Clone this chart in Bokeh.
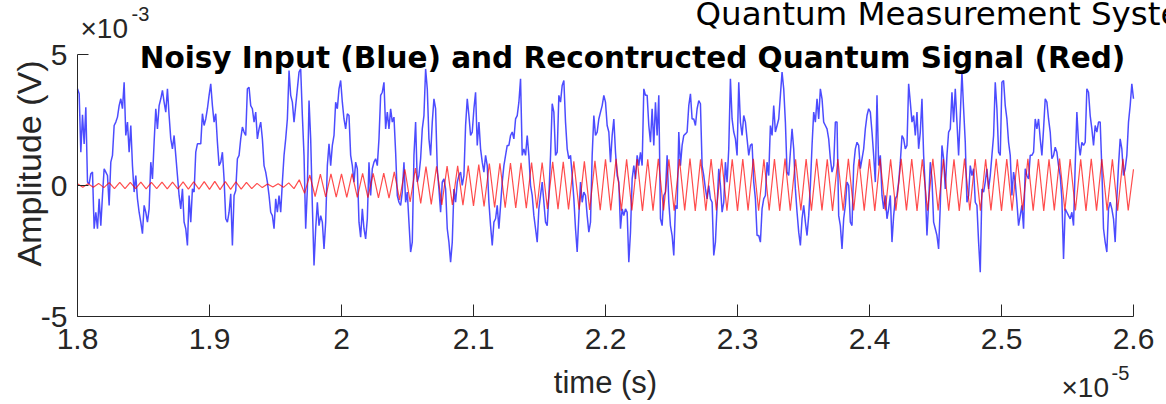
import numpy as np
from bokeh.plotting import figure
from bokeh.models import Range1d, FixedTicker, Label, LinearAxis
from bokeh.embed import file_html
from bokeh.resources import INLINE

# ---------------- data (time in units of 1e-5 s, amplitude in units of 1e-3 V) ----------------
t_start, t_end = 1.8, 2.6
v_min, v_max = -5, 5

blue_mv = [
    3.69, 3.50, 1.27, 2.70, 1.59, 2.99, 0.13, 0.06, 0.45, 0.51,
    -1.65, -1.02, -1.65, -0.51, -1.53, -0.38, 0.64, 0.51, 0.38, -0.76,
    0.89, 1.15, 2.29, 2.42, 2.61, 3.05, 3.31, 2.93, 3.94, 1.91,
    2.42, 1.27, 2.29, 0.76, -0.25, 0.38, -0.51, -1.02, -1.40, -1.84,
    -0.76, -1.02, -1.40, -0.89, 0.89, 0.25, 1.65, 2.93, 2.16, 3.05,
    3.31, 3.63, 3.18, 2.80, 3.69, 2.67, 1.78, 1.40, 1.91, 1.15,
    0.38, -0.38, -0.89, -0.13, -1.40, -1.65, -2.29, -0.38, -1.40, -0.13,
    -0.25, 1.27, 1.59, 1.59, 1.59, 2.74, 2.29, 2.54, 2.93, 3.44,
    3.88, 3.05, 2.42, 2.74, 1.65, 0.76, 0.89, 1.27, 0.25, -1.27,
    -1.40, -1.02, -0.32, -2.29, -0.38, -0.19, 1.02, 1.15, 1.78, 2.23,
    2.04, 1.91, 3.69, 3.75, 3.05, 2.93, 2.42, 2.80, 1.78, 2.16,
    2.42, 1.78, 0.76, 0.51, 0.13, -0.38, -1.02, -1.15, -1.65, -0.51,
    -1.02, -0.38, -1.02, 0.13, 1.15, 1.78, 2.54, 4.39, 3.44, 3.18,
    2.42, 3.05, 3.69, 4.33, 4.45, 2.67, 1.15, -1.65, -0.13, 3.24,
    1.78, -0.76, -3.05, -1.65, -0.64, -1.53, -1.15, -1.40, -2.42, -1.40,
    0.76, 1.59, 0.76, 1.53, 1.91, 3.18, 2.93, 3.69, 4.01, 3.18,
    2.54, 2.16,
    2.74, 2.67, 1.15, 0.76, 0.13, 0.89, 0.64, -1.40, -1.97, -0.89,
    -1.65, -2.04, -1.27, 0.89, -0.38, 0.64, 0.89, 1.02, 0.76, 1.78,
    3.44, 3.56, 3.94, 2.16, 2.80, 2.16, 2.93, 2.42, 2.61, 1.27,
    -0.38, -0.64, -0.76, -0.25, 0.89, -0.64, -0.25, -1.40, -2.54, -2.16,
    1.15, 2.42, 0.13, 0.38, 1.02, 2.16, 2.67, 4.45, 3.69, 1.78,
    1.15, 2.42, 3.31, 2.93, 0.64, -0.13, -1.02, 0.13, 0.25, -0.13,
    -1.65, -2.16, -2.93, -2.16, -0.13, -0.64, 0.13, 0.38, 0.51, 0.00,
    0.38, 2.29, 3.31, 2.67, 1.91, 2.04, 2.93, 3.56, 1.53, 2.42,
    1.40, 0.89, 0.51, 1.15, 0.76, -0.64, -1.53, -2.29, -1.40, -1.27,
    -0.76, -1.65, -0.76, 0.13, 0.76, 1.15, 1.53, 1.53, 1.91, 2.04,
    1.78, 2.54, 2.67, 3.18, 4.07, 1.15, 1.40, 1.15, 1.91, 1.15,
    0.00, -0.38, -1.15, -1.65, -2.16, -0.89, -0.38, 0.13, -0.64, -1.40,
    -1.53, -0.38, 1.15, 3.12, 2.80, 1.15, 1.27, 3.44, 3.18, 3.82,
    4.01, 2.42, 1.40, 1.02, 1.15, 0.38, -0.51, -1.65, -2.54, -1.15,
    0.13, -0.64, -0.25, -0.38, -1.15, -1.78, -1.40, 1.15, 2.67, 1.91,
    2.04, 2.54, 2.80, 3.05, 3.44, 3.18, 2.29, 2.04, 0.89,
    1.91, 2.54, 1.27, 0.38, 0.13, -1.65, -0.89, -1.15, -0.89, -1.02,
    -2.93, -1.78, 0.25, 0.76, 0.25, 1.15, 0.76, 1.27, 0.76, 3.69,
    3.44, 3.44, 2.29, 1.65, 2.93, 1.53, 3.18, 1.91, 3.44, -1.27,
    -1.53, -0.38, -0.25, 1.15, -0.64, -1.53, -1.91, -2.67, -0.76, -0.89,
    2.04, 0.76, 1.53, 1.91, 1.97, 2.04, 3.05, 3.50, 2.54, 2.54,
    2.29, 2.93, 3.24, 3.12, 0.76, 0.38, -0.13, -0.51, 0.00, -0.51,
    -0.64, -2.67, -2.16, -0.76, 0.64, 0.00, -1.02, -0.64, 0.89, 0.13,
    1.40, 4.07, 2.54, 2.04, 1.78, 1.15, 3.94, 2.42, 1.91, 2.67,
    2.42, 1.78, 1.15, 1.53, 1.59, 0.13, -0.51, -1.91, -1.91, -2.16,
    -0.89, -0.51, -0.38, 0.89, 0.38, 2.29, 1.91, 3.05, 2.04, 2.29,
    2.54, 3.44, 4.33, 3.69, 2.42, 0.51, 0.38, 1.27, 2.16, 1.40,
    -0.13, -1.02, -1.78, -2.29, -1.27, -0.76, -1.40, -1.91, -1.15, 0.00,
    1.53, 2.80, 2.42, 3.31, 2.54, 3.69, 3.31, 2.42, 2.29, 2.16,
    1.78, 1.02, 0.51, 0.76, 2.42, 2.42, -1.15, -1.53, -2.42, -1.27,
    -0.76, 0.13, 0.00, -1.40, -1.53, 0.76, 1.40, 1.65, 1.53, 0.64,
    1.02, 1.40, 2.16, 2.67, 2.93, 2.80, 2.04, 1.15, 0.13,
    3.44, 0.76, 1.15, -0.38, -0.89, -0.38, -1.27, -0.89, -0.38, -2.16,
    -1.15, -0.51, -0.38, 0.13, 0.89, 1.91, 1.78, 1.40, 1.53, 3.88,
    3.18, 2.42, 2.67, 1.91, 2.80, 1.40, 2.04, 3.31, 1.15, -0.13,
    -1.91, -0.64, 0.89, 0.25, -1.40, -1.65, -1.91, -2.42, -0.76, 1.53,
    1.02, -0.13, 1.15, 2.04, 2.16, 3.56, 2.42, 3.69, 2.42, 1.15,
    2.67, 4.33, 2.93, 1.65, -0.64, -0.38, 0.76, 0.38, 0.64, -0.64,
    -0.76, -2.16, -3.31, -0.13, -0.25, 0.13, 0.64, -0.13, 0.38, 1.15,
    1.91, 3.94, 2.93, 1.27, 1.15, 3.94, 4.01, 3.05, 2.54, 1.65,
    1.15, -0.38, 0.51, 0.13, -0.64, -1.53, -1.15, -0.76, -1.65, 0.64,
    0.38, 0.25, 1.15, 1.15, 1.27, 2.54, 2.16, 2.54, 1.78, 1.15,
    2.16, 3.31, 3.18, 2.54, 2.04, 1.02, 1.15, 1.46, 1.27, 0.76,
    0.38, -0.51, -2.80, -0.89, -1.02, -1.15, -1.27, -1.02, -1.53, 0.76,
    2.80, 1.65, 1.15, 1.65, 1.53, 1.65, 3.69, 3.56, 2.67, 2.16,
    1.53, 2.29, 2.04, 2.42, 2.42, 0.64, -1.65, -2.16, -2.54, -0.89,
    -0.64, -0.89, -1.27, -2.16, -0.51, 0.76, 1.78, 1.40, 0.38, 0.64,
    1.15, 2.42, 3.05, 3.88, 3.31,
]

# reconstructed signal: successive crest / trough values (half-period sampling)
red_mv = [
    0.07, -0.07, 0.07, -0.07, 0.08, -0.08,
    0.11, -0.12, 0.12, -0.12, 0.12, -0.12, 0.13, -0.13, 0.12, -0.12,
    0.13, -0.13, 0.13, -0.13, 0.14, -0.14, 0.14, -0.14,
    0.15, -0.15, 0.16, -0.16, 0.15, -0.15, 0.14, -0.14, 0.12, -0.12,
    0.08, -0.08, 0.06, -0.06, 0.07, -0.07,
    0.10, -0.12, 0.22, -0.30,
    0.40, -0.42, 0.43, -0.43, 0.44, -0.44, 0.44, -0.45, 0.45, -0.45,
    0.46, -0.46, 0.46, -0.47, 0.47, -0.48, 0.52, -0.55,
    0.62, -0.63, 0.66, -0.68,
    0.72, -0.72, 0.73, -0.74, 0.74, -0.74, 0.75, -0.75, 0.76, -0.78, 0.80, -0.80,
    0.84, -0.84, 0.85, -0.85, 0.86, -0.86, 0.87, -0.87, 0.88, -0.88, 0.88,
    -0.89, 0.90, -0.90, 0.90, -0.91, 0.92, -0.92, 0.92, -0.93, 0.94, -0.94,
    1.00, -0.95, 1.02, -0.96, 1.00, -0.95, 1.01, -0.97, 1.00, -0.96,
    1.02, -0.95, 1.00, -0.96, 1.01, -0.95, 1.03, -0.97, 1.00, -0.96,
    1.01, -0.95, 1.02, -0.96, 1.00, -0.97, 1.01, -0.95, 1.02, -0.96,
    1.00, -0.95, 1.01, -0.97, 1.03, -0.96, 1.00, -0.95, 1.01, -0.96,
    1.02, -0.95, 1.00, -0.97, 1.01, -0.96, 1.02, -0.95, 1.00, -0.96,
    1.01, -0.97, 1.03, -0.95, 1.00, -0.96, 1.02, -0.95, 1.01, -0.97,
    1.00, -0.96, 1.02, -0.95, 1.01, -0.96, 1.00, -0.97, 1.03, -0.95,
    1.01, -0.96, 1.00, -0.95, 1.02, -0.97, 1.01, -0.96, 1.00, -0.95,
    1.02, -0.96, 1.01, -0.97, 1.00, -0.95, 1.03, -0.96, 1.01, -0.95,
    1.00, -0.97, 1.02, -0.96, 1.01, -0.95, 1.00, -0.96, 1.02, -0.95,
    0.62,
]

x_ticks = [1.8, 1.9, 2.0, 2.1, 2.2, 2.3, 2.4, 2.5, 2.6]
x_tick_labels = ["1.8", "1.9", "2", "2.1", "2.2", "2.3", "2.4", "2.5", "2.6"]
y_ticks = [-5, 0, 5]
y_tick_labels = ["-5", "0", "5"]

title_text = "Noisy Input (Blue) and Recontructed Quantum Signal (Red)"
suptitle_text = "Quantum Measurement System"
x_label = "time (s)"
y_label = "Amplitude (V)"

# uniform time bases for the sampled traces
t_blue = np.linspace(t_start, t_end, len(blue_mv))
t_red = np.linspace(t_start, t_end, len(red_mv))

# ---------------- layout geometry (pixels) ----------------
W, H = 1166, 404
AX_L, AX_R, AX_T, AX_B = 77, 1133, 54, 316          # axes box inside the canvas
kx = (AX_R - AX_L) / (t_end - t_start)              # px per x unit
ky = (AX_B - AX_T) / (v_max - v_min)                # px per y unit
x_lo = t_start - AX_L / kx
x_hi = t_end + (W - AX_R) / kx
y_lo = v_min - (H - AX_B) / ky
y_hi = v_max + AX_T / ky

def px_x(px):
    return t_start + (px - AX_L) / kx

def px_y(py):
    return v_max - (py - AX_T) / ky

AX = "#262626"
TICK_FONT = "Liberation Sans"

p = figure(width=W, height=H, output_backend="svg", toolbar_location=None,
           x_range=Range1d(x_lo, x_hi), y_range=Range1d(y_lo, y_hi),
           x_axis_type=None, y_axis_type=None, min_border=0)
p.outline_line_color = None
p.background_fill_color = "white"
p.border_fill_color = "white"

xax = LinearAxis(fixed_location=v_min, bounds=(t_start, t_end),
                 ticker=FixedTicker(ticks=x_ticks),
                 major_label_overrides={t: s for t, s in zip(x_ticks, x_tick_labels)})
yax = LinearAxis(fixed_location=t_start, bounds=(v_min, v_max),
                 ticker=FixedTicker(ticks=y_ticks),
                 major_label_overrides={t: s for t, s in zip(y_ticks, y_tick_labels)})
for ax in (xax, yax):
    ax.axis_line_color = AX
    ax.axis_line_width = 1
    ax.major_tick_line_color = AX
    ax.major_tick_out = 0
    ax.minor_tick_line_color = None
    ax.major_label_text_font = TICK_FONT
    ax.major_label_text_font_size = "30px"
    ax.major_label_text_color = AX
xax.major_tick_in = 12
yax.major_tick_in = 11
xax.major_label_standoff = 12
yax.major_label_standoff = 10
p.add_layout(xax, "below")
p.add_layout(yax, "left")

p.line(t_blue, blue_mv, line_color="#0000ff", line_width=1.5, line_alpha=0.7)
p.line(t_red, red_mv, line_color="#ff0000", line_width=1.2, line_alpha=0.7)

# ---------------- texts ----------------
def add_text(px, py, text, font=TICK_FONT, size="30px", style="normal", color=AX,
             align="left", baseline="alphabetic", angle=0.0):
    p.add_layout(Label(x=px_x(px), y=px_y(py), text=text, text_font=font,
                       text_font_size=size, text_font_style=style, text_color=color,
                       text_align=align, text_baseline=baseline, angle=angle))

add_text(632, 57.5, title_text, font="DejaVu Sans", size="29.5px", style="bold",
         color="black", align="center")
add_text(695, 13, suptitle_text, font="DejaVu Sans", size="32.5px", color="black")
add_text(605, 382, x_label, size="31px", align="center")
add_text(28, 163, y_label, size="34px", align="center", baseline="middle", angle=np.pi / 2)
add_text(80, 27.5, "\u00d710", size="28px")
add_text(131, 13.5, "-3", size="20px")
add_text(1061, 387, "\u00d710", size="28px")
add_text(1111, 372, "-5", size="20px")

open("out.html", "w").write(file_html(p, INLINE))
